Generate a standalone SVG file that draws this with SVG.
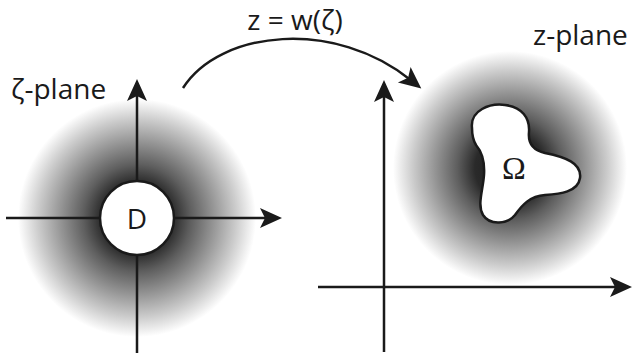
<svg xmlns="http://www.w3.org/2000/svg" width="633" height="356" viewBox="0 0 633 356">
<defs>
<radialGradient id="gl" cx="137" cy="218" r="119" gradientUnits="userSpaceOnUse">
<stop offset="0" stop-color="#1a1a1a"/>
<stop offset="0.3" stop-color="#2a2a2a"/>
<stop offset="0.45" stop-color="#5e5e5e"/>
<stop offset="0.65" stop-color="#979797"/>
<stop offset="0.83" stop-color="#cbcbcb"/>
<stop offset="1" stop-color="#fff"/>
</radialGradient>
<radialGradient id="gr" cx="510" cy="168" r="117" gradientUnits="userSpaceOnUse">
<stop offset="0" stop-color="#1a1a1a"/>
<stop offset="0.3" stop-color="#2a2a2a"/>
<stop offset="0.45" stop-color="#5e5e5e"/>
<stop offset="0.65" stop-color="#979797"/>
<stop offset="0.83" stop-color="#cbcbcb"/>
<stop offset="1" stop-color="#fff"/>
</radialGradient>
<marker id="ah" viewBox="-12 -12 26 24" markerWidth="26" markerHeight="24" refX="0" refY="0" orient="auto" markerUnits="userSpaceOnUse">
<path d="M12,0 L-10,-10 L-5,0 L-10,10 Z" fill="#1a1a1a"/>
</marker>
</defs>
<style>
.ax{stroke:#1a1a1a;stroke-width:2.5;fill:none}
.lbl{font-family:"Open Sans","Noto Sans",sans-serif;font-size:28px;fill:#1a1a1a}
</style>
<g id="zeta-plane">
<circle cx="137" cy="218" r="119" fill="url(#gl)"/>
<line class="ax" x1="6" y1="218" x2="270" y2="218" marker-end="url(#ah)"/>
<line class="ax" x1="137" y1="353" x2="137" y2="91" marker-end="url(#ah)"/>
<text class="lbl" x="11" y="99">ζ-plane</text>
</g>
<g id="D">
<circle cx="137" cy="218" r="37" fill="#fff" stroke="#1a1a1a" stroke-width="2.5"/>
<text class="lbl" x="137" y="229" text-anchor="middle">D</text>
</g>
<g id="z-plane">
<circle cx="510" cy="168" r="117" fill="url(#gr)"/>
<line class="ax" x1="384" y1="352" x2="384" y2="92" marker-end="url(#ah)"/>
<line class="ax" x1="318" y1="287" x2="620" y2="287" marker-end="url(#ah)"/>
<text class="lbl" x="533" y="45">z-plane</text>
</g>
<g id="Omega">
<path d="M472,128 C470,110 490,103 505,105 C522,107 530,118 529,132 C528,142 532,150 545,153 C565,157 582,163 580,178 C578,192 560,194 545,195 C530,196 522,205 515,215 C508,224 490,226 483,215 C477,205 483,190 484,175 C485,160 482,152 476,145 C473,140 472,135 472,128 Z" fill="#fff" stroke="#1a1a1a" stroke-width="2.5"/>
<text x="514" y="179" text-anchor="middle" font-family="Liberation Serif, serif" font-size="32" fill="#1a1a1a">Ω</text>
</g>
<g id="connectors">
<path class="ax" d="M183,88 C220,30 335,18 412,81" marker-end="url(#ah)"/>
<text class="lbl" x="295" y="30" text-anchor="middle" font-size="27">z = w(ζ)</text>
</g>
</svg>
